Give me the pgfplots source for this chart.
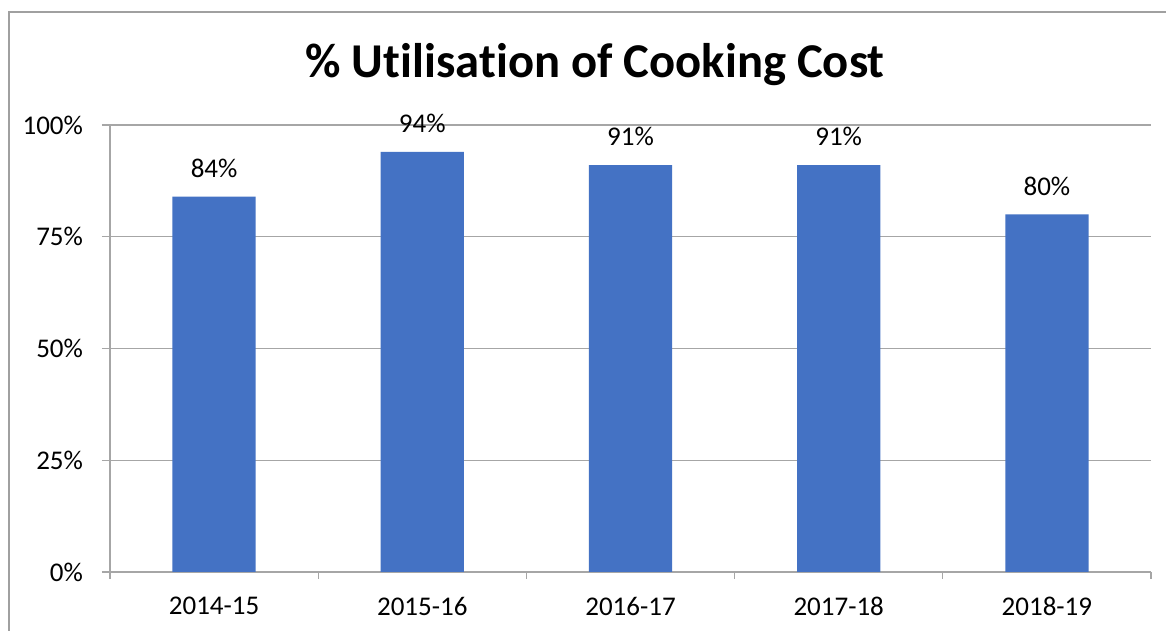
\documentclass[border=0pt]{standalone}
\usepackage{pgfplots}
\pgfplotsset{compat=1.18}
\usepackage{fontspec}
\setmainfont[Ligatures={NoCommon}]{Carlito}
\definecolor{barblue}{HTML}{4472C4}
\definecolor{gridgray}{HTML}{A6A6A6}
\definecolor{framegray}{HTML}{A0A0A0}
\begin{document}
\begin{tikzpicture}
\useasboundingbox (0,0) rectangle (583pt,315.5pt);
\fill[white] (0,0) rectangle (583pt,315.5pt);
\draw[framegray, line width=0.7pt] (4.5pt,0) -- (4.5pt,309.5pt) -- (583pt,309.5pt);
\node[font=\fontsize{24.3}{28}\selectfont\bfseries] at (297.5pt,283pt) {\% Utilisation of Cooking Cost};
\begin{axis}[
  at={(55pt,29.5pt)}, anchor=south west,
  scale only axis, width=520.5pt, height=223.5pt,
  xmin=-0.5, xmax=4.5, ymin=0, ymax=100,
  axis x line=bottom, axis y line=left,
  axis line style={gridgray, line width=0.6pt, -},
  xtick={0,1,2,3,4},
  xticklabels={2014-15,2015-16,2016-17,2017-18,2018-19},
  minor xtick={-0.5,0.5,1.5,2.5,3.5,4.5},
  major x tick style={draw=none},
  minor x tick style={gridgray, line width=0.6pt},
  minor tick length=3.5pt,
  ytick={0,25,50,75,100},
  yticklabels={0\%,25\%,50\%,75\%,100\%},
  major y tick style={gridgray, line width=0.6pt},
  major tick length=4pt,
  tick align=outside,
  ymajorgrids, grid style={gridgray, line width=0.6pt},
  tick label style={font=\fontsize{13.5}{15}\selectfont},
  xticklabel style={yshift=-5pt},
  yticklabel style={xshift=-6pt},
  /pgf/number format/assume math mode=true,
  ybar, bar width=41.6pt,
  nodes near coords={\pgfmathprintnumber{\pgfplotspointmeta}\%},
  nodes near coords style={font=\fontsize{13.5}{15}\selectfont, yshift=6pt},
  clip=false,
]
\addplot[fill=barblue, draw=none] coordinates {(0,84) (1,94) (2,91) (3,91) (4,80)};
\end{axis}
\end{tikzpicture}
\end{document}
